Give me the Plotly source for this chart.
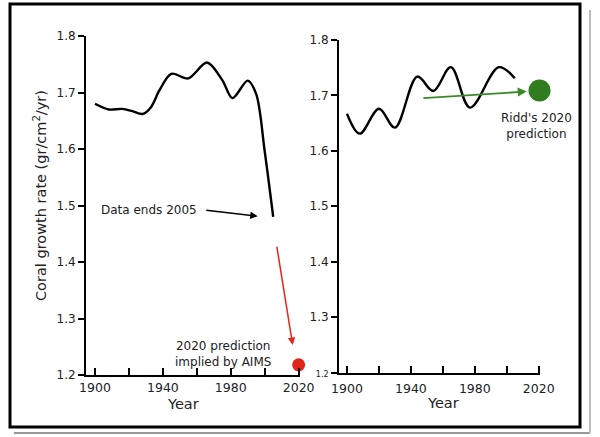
import plotly.graph_objects as go

# ---- data ----
left_years = [1900, 1908, 1916, 1922, 1928, 1933, 1938, 1945, 1955, 1966, 1975, 1981, 1990, 1995, 2000, 2005]
left_vals = [1.680, 1.670, 1.671, 1.667, 1.662, 1.674, 1.704, 1.733, 1.725, 1.753, 1.722, 1.690, 1.721, 1.697, 1.596, 1.480]

right_years = [1900, 1908, 1920, 1930, 1944, 1954, 1965, 1977, 1995, 2005]
right_vals = [1.667, 1.631, 1.676, 1.642, 1.734, 1.708, 1.751, 1.678, 1.751, 1.731]

aims_year, aims_val = [2020], [1.218]
ridd_year, ridd_val = [2020.5], [1.709]

x_tickvals = [1900, 1920, 1940, 1960, 1980, 2000, 2020]
x_ticktext = ["1900", " ", "1940", " ", "1980", " ", "2020"]
y_tickvals = [1.2, 1.3, 1.4, 1.5, 1.6, 1.7, 1.8]
y_ticktext = ["1.2", "1.3", "1.4", "1.5", "1.6", "1.7", "1.8"]
y_ticktext_r = ['<span style="font-size:8px">1.2</span>', "1.3", "1.4", "1.5", "1.6", "1.7", "1.8"]

FONT = "DejaVu Sans"
W, H = 600, 437

def px(x):
    return x / W

def py(y):
    return 1 - y / H

fig = go.Figure()
fig.add_trace(go.Scatter(x=left_years, y=left_vals, mode="lines",
                         line=dict(color="black", width=2.4, shape="spline", smoothing=0.9),
                         xaxis="x", yaxis="y", showlegend=False))
fig.add_trace(go.Scatter(x=aims_year, y=aims_val, mode="markers",
                         marker=dict(color="#e3261c", size=13), cliponaxis=False,
                         xaxis="x", yaxis="y", showlegend=False))
fig.add_trace(go.Scatter(x=right_years, y=right_vals, mode="lines",
                         line=dict(color="black", width=2.4, shape="spline", smoothing=1.0),
                         xaxis="x2", yaxis="y2", showlegend=False))
fig.add_trace(go.Scatter(x=ridd_year, y=ridd_val, mode="markers",
                         marker=dict(color="#2f7d1f", size=22), cliponaxis=False,
                         xaxis="x2", yaxis="y2", showlegend=False))

axis_common = dict(showline=True, linecolor="black", linewidth=2, showgrid=False,
                   zeroline=False, tickcolor="black", tickwidth=2, automargin=False)
xfont = dict(family=FONT, size=12.5, color="#222")
yfont = dict(family=FONT, size=12, color="#222")

fig.update_layout(
    width=W, height=H, margin=dict(l=0, r=0, t=0, b=0, autoexpand=False),
    paper_bgcolor="white", plot_bgcolor="white",
    xaxis=dict(domain=[px(86), px(300)], range=[1894.7, 2020.8], anchor="y",
               tickmode="array", tickvals=x_tickvals, ticktext=x_ticktext,
               ticks="inside", ticklen=7, tickfont=xfont, **axis_common),
    yaxis=dict(domain=[py(375), py(36)], range=[1.2, 1.8], anchor="x",
               tickmode="array", tickvals=y_tickvals, ticktext=y_ticktext,
               ticks="outside", ticklen=6, tickfont=yfont, **axis_common),
    xaxis2=dict(domain=[px(339), px(540)], range=[1895, 2020.8], anchor="y2",
                tickmode="array", tickvals=x_tickvals, ticktext=x_ticktext,
                ticks="inside", ticklen=7, ticklabelstandoff=3, tickfont=xfont, **axis_common),
    yaxis2=dict(domain=[py(372.5), py(40)], range=[1.2, 1.8], anchor="x2",
                tickmode="array", tickvals=y_tickvals, ticktext=y_ticktext_r,
                ticks="outside", ticklen=6, tickfont=yfont, **axis_common),
)

txt = dict(family=FONT, size=12, color="#222")

def label(text, x, y, size=None, **kw):
    f = dict(txt) if size is None else dict(family=FONT, size=size, color="#222")
    return dict(text=text, x=px(x), y=py(y), xref="paper", yref="paper", showarrow=False,
                xanchor="center", yanchor="middle", font=f, align="center", **kw)

ann = [
    label("Coral growth rate (gr/cm<sup>2</sup>/yr)", 40, 196, size=14.5, textangle=-90),
    label("Year", 183, 404, size=14.5),
    label("Year", 443, 403, size=14.5),
    label("Data ends 2005", 149, 210),
    label("2020 prediction<br>implied by AIMS", 223, 354),
    label("Ridd's 2020<br>prediction", 536, 126),
    # arrows
    dict(x=1995.9, y=1.481, ax=1964.7, ay=1.492, xref="x", yref="y", axref="x", ayref="y",
         text="", showarrow=True, arrowhead=2, arrowsize=1, arrowwidth=1.5, arrowcolor="black"),
    dict(x=2016.5, y=1.253, ax=2007, ay=1.43, xref="x", yref="y", axref="x", ayref="y",
         text="", showarrow=True, arrowhead=2, arrowsize=1, arrowwidth=1.5, arrowcolor="#e3261c"),
    dict(x=2012.5, y=1.707, ax=1946.9, ay=1.695, xref="x2", yref="y2", axref="x2", ayref="y2",
         text="", showarrow=True, arrowhead=2, arrowsize=1, arrowwidth=1.8, arrowcolor="#3a8a2a"),
]
fig.update_layout(annotations=ann)

fig.update_layout(shapes=[
    dict(type="line", xref="paper", yref="paper", x0=px(14), x1=px(590), y0=py(433), y1=py(433),
         line=dict(color="#999", width=2)),
    dict(type="line", xref="paper", yref="paper", x0=px(590), x1=px(590), y0=py(10), y1=py(433),
         line=dict(color="#bbb", width=2)),
    dict(type="rect", xref="paper", yref="paper", x0=px(10), x1=px(580), y0=py(427), y1=py(4),
         line=dict(color="black", width=3)),
])

fig.write_html("out.html", config={"displayModeBar": False},
               post_script="document.body.style.margin='0';document.body.style.padding='0';")
